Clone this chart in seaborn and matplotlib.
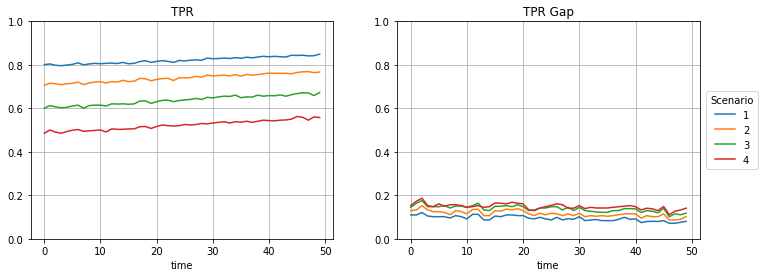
import numpy as np
import pandas as pd
import matplotlib
matplotlib.use("Agg")
import matplotlib.pyplot as plt
import seaborn as sns

time = list(range(50))
scenarios = [1, 2, 3, 4]

tpr_1 = [.800, .803, .797, .795, .798, .801, .808, .799, .803, .806,
         .804, .806, .807, .805, .810, .804, .806, .814, .818, .810,
         .815, .818, .815, .810, .819, .817, .820, .822, .820, .830,
         .827, .828, .830, .828, .832, .829, .834, .831, .835, .838,
         .836, .838, .836, .835, .843, .842, .843, .840, .841, .848]
tpr_2 = [.705, .715, .712, .708, .712, .714, .720, .708, .716, .720,
         .722, .716, .722, .720, .728, .722, .724, .737, .735, .726,
         .732, .736, .737, .727, .740, .739, .740, .746, .742, .752,
         .748, .750, .752, .748, .754, .747, .755, .752, .754, .758,
         .761, .760, .760, .760, .758, .764, .767, .768, .763, .766]
tpr_3 = [.600, .612, .606, .602, .604, .610, .614, .600, .612, .614,
         .614, .610, .620, .619, .620, .618, .620, .633, .634, .622,
         .630, .636, .637, .630, .635, .638, .640, .645, .640, .650,
         .647, .652, .655, .654, .660, .648, .652, .651, .660, .655,
         .658, .657, .661, .655, .662, .667, .671, .670, .658, .672]
tpr_4 = [.485, .500, .490, .485, .493, .499, .502, .494, .496, .498,
         .500, .491, .505, .503, .503, .505, .505, .515, .516, .507,
         .516, .523, .520, .518, .520, .525, .523, .525, .530, .528,
         .532, .535, .538, .532, .538, .536, .540, .535, .540, .545,
         .543, .542, .545, .546, .550, .562, .558, .545, .560, .557]

gap_1 = [.110, .110, .121, .105, .102, .102, .102, .096, .107, .102,
         .092, .113, .113, .087, .087, .105, .102, .110, .110, .107,
         .107, .095, .092, .099, .092, .087, .099, .087, .093, .090,
         .102, .084, .087, .089, .084, .084, .084, .090, .099, .090,
         .092, .075, .080, .081, .080, .084, .072, .072, .076, .081]
gap_2 = [.130, .133, .153, .133, .125, .125, .122, .111, .130, .125,
         .115, .135, .136, .107, .107, .130, .127, .137, .133, .139,
         .130, .115, .107, .118, .111, .118, .115, .107, .115, .107,
         .118, .102, .107, .104, .107, .104, .107, .111, .115, .115,
         .115, .095, .107, .102, .102, .115, .087, .087, .090, .102]
gap_3 = [.145, .164, .176, .148, .148, .148, .153, .142, .151, .151,
         .145, .153, .164, .133, .130, .150, .150, .153, .148, .157,
         .148, .130, .133, .142, .142, .148, .148, .133, .145, .130,
         .145, .130, .127, .124, .122, .122, .130, .130, .139, .139,
         .138, .121, .130, .127, .120, .141, .102, .115, .111, .118]
gap_4 = [.153, .173, .187, .153, .148, .161, .150, .157, .157, .153,
         .145, .148, .153, .145, .148, .165, .164, .161, .168, .164,
         .161, .133, .130, .142, .148, .154, .161, .157, .141, .141,
         .153, .139, .145, .142, .142, .142, .145, .148, .150, .153,
         .148, .133, .141, .138, .130, .149, .111, .127, .133, .141]


def to_long(series):
    frames = []
    for sc, vals in zip(scenarios, series):
        frames.append(pd.DataFrame({"time": time, "value": vals, "Scenario": str(sc)}))
    return pd.concat(frames, ignore_index=True)


df_tpr = to_long([tpr_1, tpr_2, tpr_3, tpr_4])
df_gap = to_long([gap_1, gap_2, gap_3, gap_4])

plt.rcParams['font.family'] = ['DejaVu Sans']
plt.rcParams['font.size'] = 10

fig, axes = plt.subplots(1, 2, figsize=(10.6, 3.86), dpi=72)
fig.subplots_adjust(left=0.040, right=0.917, bottom=0.137, top=0.921, wspace=0.21)

for ax, df, title in zip(axes, [df_tpr, df_gap], ["TPR", "TPR Gap"]):
    sns.lineplot(data=df, x="time", y="value", hue="Scenario", ax=ax, linewidth=1.5)
    ax.set_title(title)
    ax.set_ylim(0, 1)
    ax.set_ylabel("")
    ax.set_xlabel("time")
    ax.set_xticks([0, 10, 20, 30, 40, 50])
    ax.grid(True, color="#b0b0b0", linewidth=0.8)

axes[0].get_legend().remove()
axes[1].legend(title="Scenario", loc="center left", bbox_to_anchor=(1.005, 0.5))

plt.savefig("out.png", dpi=72)
